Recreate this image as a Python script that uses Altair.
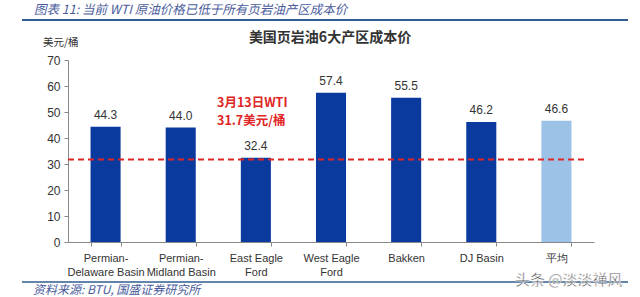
import altair as alt
import pandas as pd

categories = ["Permian-|Delaware Basin", "Permian-|Midland Basin", "East Eagle|Ford",
              "West Eagle|Ford", "Bakken", "DJ Basin", "平均"]
costs = [44.3, 44.0, 32.4, 57.4, 55.5, 46.2, 46.6]
is_avg = [False, False, False, False, False, False, True]
wti_price = 31.7
y_ticks = [0, 10, 20, 30, 40, 50, 60, 70]

df = pd.DataFrame({"cat": categories, "cost": costs, "avg": is_avg})
df["label"] = [f"{v:.1f}" for v in costs]
wti_df = pd.DataFrame({"wti": [wti_price]})

DARK = "#0B3A9F"
LIGHT = "#9DC2E8"
HEAD = "#4A5C9C"
FONT = "Liberation Sans"
CJK = "Noto Sans CJK SC"

xenc = alt.X("cat:N", sort=categories, title=None,
             scale=alt.Scale(paddingInner=0.6, paddingOuter=0.3),
             axis=alt.Axis(labelExpr="split(datum.label, '|')", labelAngle=0,
                           labelFont=FONT, labelFontSize=11, labelColor="#333333",
                           labelPadding=6, labelLineHeight=14,
                           domainColor="#888888", tickColor="#888888",
                           tickBand="extent", tickSize=4))
yenc = alt.Y("cost:Q", title=None,
             scale=alt.Scale(domain=[0, 70], nice=False),
             axis=alt.Axis(values=y_ticks, tickCount=8, labelOverlap=False,
                           labelFont=FONT, labelFontSize=12,
                           labelColor="#333333", domainColor="#888888",
                           tickColor="#888888", tickSize=4, grid=False,
                           labelPadding=4))

base = alt.Chart(df)
bars = base.mark_bar().encode(
    x=xenc, y=yenc,
    color=alt.condition(alt.datum.avg, alt.value(LIGHT), alt.value(DARK)),
)
vals = base.mark_text(dy=-12, font=FONT, fontSize=12, color="#333333").encode(
    x=alt.X("cat:N", sort=categories), y="cost:Q", text="label:N")

wti = alt.Chart(wti_df).mark_rule(color="#E02525", strokeDash=[6, 4], strokeWidth=2).encode(
    y="wti:Q", x=alt.value(0), x2=alt.value(519))

def txt(s, x, y, **kw):
    return alt.Chart(pd.DataFrame({"t": [s]})).mark_text(**kw).encode(
        x=alt.value(x), y=alt.value(y), text="t:N")

def hline(x1, x2, y, color, w):
    return alt.Chart(pd.DataFrame({"a": [0]})).mark_rule(color=color, strokeWidth=w).encode(
        x=alt.value(x1), x2=alt.value(x2), y=alt.value(y))

header = txt("图表 11:  当前 WTI 原油价格已低于所有页岩油产区成本价", -34, -50, align="left",
             font=CJK, fontSize=12.5, fontStyle="italic", color=HEAD, baseline="middle")
head_line = hline(-46, 560, -40, "#2F5D8F", 2)
title = txt("美国页岩油6大产区成本价", 262, -22, font=CJK, fontSize=14, fontWeight="bold",
            color="#333333", baseline="middle")
unit = txt("美元/桶", -25, -17, align="left", font=CJK, fontSize=10.5, color="#333333",
           baseline="middle")
ann1 = txt("3月13日WTI", 149, 43, align="left", font=CJK, fontSize=12.5, fontWeight="bold",
           color="#E02525", baseline="middle")
ann2 = txt("31.7美元/桶", 149, 61, align="left", font=CJK, fontSize=12.5, fontWeight="bold",
           color="#E02525", baseline="middle")
foot_line = hline(-46, 560, 222, "#2F5D8F", 1.5)
foot = txt("资料来源:  BTU,  国盛证券研究所", -35, 230, align="left", font=CJK, fontSize=12,
           fontStyle="italic", color=HEAD, baseline="middle")
mark = txt("头条 @淡淡禅风", 447, 220, align="left", font=CJK, fontSize=15, color="#333333",
           baseline="middle", stroke="white", strokeWidth=0.5)

chart = alt.layer(bars, vals, wti, header, head_line, title, unit, ann1, ann2,
                  foot_line, foot, mark).properties(
    width=526, height=182,
    autosize=alt.AutoSizeParams(type="none"),
    padding={"left": 68, "top": 60, "right": 46, "bottom": 55},
    background="white",
).configure_view(stroke=None)

chart.save("out.html", embed_options={"renderer": "svg", "actions": False})
